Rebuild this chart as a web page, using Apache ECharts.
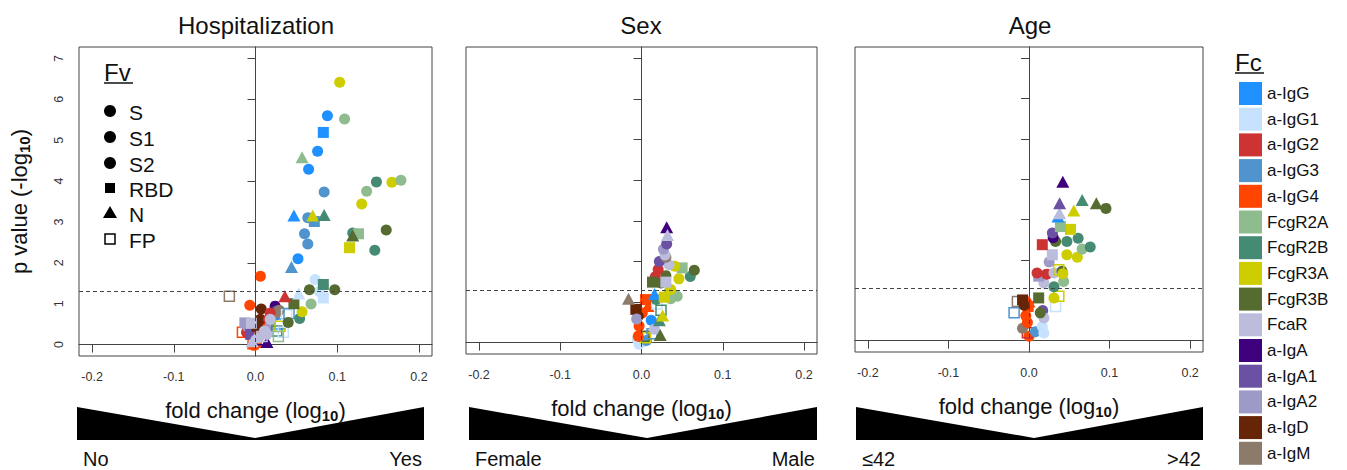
<!DOCTYPE html>
<html>
<head>
<meta charset="utf-8">
<script src="https://cdn.jsdelivr.net/npm/echarts@6/dist/echarts.min.js"></script>
<style>html,body{margin:0;padding:0;background:#fff}#c{width:1347px;height:470px}</style>
</head>
<body>
<div id="c"></div>
<script>
// ---------- data ----------
const fcNames = ['a-IgG','a-IgG1','a-IgG2','a-IgG3','a-IgG4','FcgR2A','FcgR2B','FcgR3A','FcgR3B','FcaR','a-IgA','a-IgA1','a-IgA2','a-IgD','a-IgM'];
const fcColors = ['#1E90FF','#C6E2FF','#CD3333','#4F94CD','#FF4500','#8FBC8F','#458B74','#CDCD00','#556B2F','#BCBDDC','#3F007D','#6A51A3','#9E9AC8','#662506','#8C7B6B'];
const fvNames = ['S','S1','S2','RBD','N','FP'];
const panelTitles = ['Hospitalization','Sex','Age'];
const groupLow = ['No','Female','≤42'];
const groupHigh = ['Yes','Male','>42'];
const xTicks = [-0.2,-0.1,0,0.1,0.2];
const yTicks = [0,1,2,3,4,5,6,7];
const pThreshold = 1.301; // -log10(0.05)

// [Fc, Fv, fold change (log10), p value (-log10)]
const hospitalization = [
 ['a-IgG4','FP',-0.003,0.02],['a-IgG4','S2',-0.002,-0.02],['a-IgG4','RBD',0.001,0.05],
 ['a-IgA','N',0.014,0.06],['a-IgA','FP',0.008,0.12],['a-IgG4','FP',-0.016,0.30],
 ['a-IgG2','RBD',-0.009,0.38],['a-IgG2','S1',-0.011,0.30],['a-IgA2','RBD',-0.013,0.53],
 ['a-IgA2','S',-0.010,0.44],['a-IgA1','RBD',-0.006,0.25],['a-IgG4','N',0.008,0.37],
 ['a-IgG4','S',0.011,0.49],['a-IgG4','S2',0.004,0.20],['a-IgG4','S1',-0.007,0.96],
 ['a-IgG4','S',0.006,1.67],['a-IgD','S',0.007,0.87],['a-IgD','S1',0.006,0.62],
 ['a-IgD','RBD',0.002,0.45],['a-IgA','S',0.024,0.94],['a-IgA1','S',0.026,0.82],
 ['a-IgM','S',0.029,0.84],['a-IgM','S1',0.024,0.72],['a-IgG2','S',0.018,0.77],
 ['a-IgG2','S1',0.016,0.62],['a-IgA2','S',0.018,0.45],['a-IgG','FP',0.030,0.50],
 ['FcgR2B','FP',0.026,0.33],['FcgR3A','FP',0.030,0.45],['a-IgG1','FP',0.034,0.30],
 ['a-IgG1','FP',0.038,0.73],['a-IgG3','FP',0.041,0.76],['FcgR2A','FP',0.028,0.20],
 ['FcgR3B','S2',0.040,0.54],['FcgR2B','S2',0.054,0.64],['FcgR3A','S',0.057,0.80],
 ['FcgR2A','S2',0.068,0.99],['FcgR3B','RBD',0.047,1.00],['a-IgG2','N',0.036,1.18],
 ['a-IgG1','N',0.053,1.25],['a-IgG1','S',0.073,1.59],['a-IgG1','RBD',0.083,1.14],
 ['a-IgG1','S1',0.078,1.30],['FcgR2B','RBD',0.083,1.47],['FcgR3B','S',0.066,1.34],
 ['FcgR3B','S2',0.097,1.34],['a-IgM','FP',-0.032,1.18],
 ['FcaR','N',-0.004,0.08],['FcaR','S2',0.003,0.16],['FcaR','RBD',-0.005,0.52],
 ['FcaR','S1',0.011,0.33],['FcaR','S',0.018,0.62],['FcaR','FP',0.008,0.20],['FcaR','S1',0.014,0.25],
 ['a-IgG3','N',0.044,1.90],['a-IgG','S',0.052,2.10],['a-IgG3','S2',0.064,2.46],
 ['a-IgG3','S1',0.060,2.71],['a-IgG3','S',0.064,3.10],['a-IgG3','RBD',0.072,3.01],
 ['a-IgG','N',0.047,3.16],['FcgR3A','N',0.070,3.16],['FcgR2B','N',0.084,3.17],
 ['a-IgG3','S1',0.084,3.73],['a-IgG','S2',0.065,4.29],['FcgR2A','N',0.057,4.58],
 ['a-IgG','S',0.076,4.73],['a-IgG','RBD',0.083,5.19],['a-IgG','S1',0.088,5.60],
 ['FcgR2A','S',0.109,5.52],['FcgR3A','S',0.103,6.42],
 ['FcgR3A','RBD',0.115,2.37],['FcgR2B','S2',0.119,2.73],['FcgR2A','RBD',0.126,2.71],
 ['FcgR3B','N',0.119,2.67],['FcgR3B','S1',0.160,2.80],['FcgR2B','S',0.146,2.31],
 ['FcgR3A','S2',0.130,3.44],['FcgR2A','S2',0.136,3.75],['FcgR2B','S1',0.148,3.98],
 ['FcgR3A','S1',0.167,3.97],['FcgR2A','S1',0.178,4.02]
];
const sex = [
 ['a-IgG1','S',-0.003,-0.04],['a-IgG1','S1',0.002,0.02],['a-IgG1','S2',-0.005,0.08],
 ['a-IgG3','S',0.006,0.05],['FcgR3B','FP',0.003,0.16],['FcgR3A','FP',0.005,0.12],
 ['a-IgG4','S',-0.004,0.16],['a-IgG4','S1',-0.003,0.41],['a-IgG4','S2',0.001,0.73],
 ['a-IgG4','RBD',0.005,1.06],['a-IgG4','N',0.008,0.90],['a-IgD','RBD',-0.007,0.82],
 ['a-IgD','S',-0.004,0.65],['a-IgA2','S',-0.006,0.58],['a-IgM','N',-0.016,1.08],
 ['a-IgG3','FP',0.013,0.22],['a-IgG','S',0.012,0.55],['FcaR','S',0.016,0.33],
 ['FcgR3B','N',0.023,0.19],['FcgR2B','N',0.022,0.55],['a-IgG1','FP',0.019,0.95],
 ['FcgR2B','FP',0.024,0.80],['FcgR2B','S',0.018,1.06],['a-IgG','N',0.016,1.20],
 ['FcgR2A','S',0.036,1.08],['FcgR2A','S1',0.044,1.14],['FcgR2A','S2',0.034,1.25],
 ['FcgR3A','S',0.036,1.31],['FcgR3A','RBD',0.028,1.12],['FcgR3A','N',0.026,0.67],
 ['FcgR3B','S2',0.030,1.65],['a-IgG2','S1',0.017,1.62],['a-IgG2','S',0.0205,1.80],
 ['FcgR3A','S1',0.046,1.57],['FcgR2B','S1',0.060,1.63],['FcgR3B','S1',0.065,1.78],
 ['FcgR2A','RBD',0.050,1.84],['FcgR3A','S2',0.041,1.88],['FcaR','S1',0.034,1.92],
 ['a-IgA1','S',0.022,2.00],['a-IgM','S',0.030,2.10],['FcaR','S2',0.029,2.16],
 ['a-IgA2','S1',0.027,2.30],['a-IgA1','S1',0.031,2.43],
 ['FcgR3B','RBD',0.0135,1.49],['FcgR3B','S',0.024,1.47],['FcaR','RBD',0.030,1.49],
 ['a-IgA','N',0.031,2.84],['FcaR','N',0.032,2.65]
];
const age = [
 ['a-IgG4','S',0.000,0.11],['a-IgG2','FP',-0.002,0.20],['a-IgG3','S',0.008,0.22],
 ['a-IgG1','S',0.0185,0.19],['a-IgG1','S1',0.0165,0.35],['a-IgM','S',-0.008,0.31],
 ['a-IgG4','S1',-0.002,0.45],['a-IgG4','S2',-0.004,0.62],['a-IgG4','RBD',-0.001,0.85],
 ['a-IgG4','N',0.000,0.97],['a-IgG3','FP',-0.0185,0.69],['a-IgM','FP',-0.0144,0.97],
 ['a-IgD','RBD',-0.008,1.01],['a-IgD','S',-0.006,0.88],['a-IgG1','FP',0.033,0.85],
 ['a-IgA1','S',0.017,0.75],['FcaR','S',0.0185,0.56],['FcgR3B','S',0.014,0.69],
 ['FcgR3B','RBD',0.012,1.06],['FcgR3A','S',0.031,1.06],['FcgR3A','FP',0.037,1.10],
 ['FcgR2B','S',0.031,1.34],['FcgR2A','S',0.043,1.47],['FcaR','S1',0.0185,1.43],
 ['a-IgA2','RBD',0.012,1.60],['a-IgG2','S',0.010,1.68],['a-IgG2','S1',0.022,1.65],
 ['FcaR','S2',0.031,1.68],['FcgR3B','S1',0.041,1.72],['FcgR3A','S1',0.042,1.66],
 ['FcgR3A','FP',0.037,1.76],['a-IgA2','S',0.025,1.95],['FcaR','RBD',0.029,2.13],
 ['FcgR3A','S2',0.047,2.13],['FcgR3A','S',0.060,2.07],['FcgR2A','S1',0.066,2.27],
 ['FcgR2B','S1',0.076,2.32],['FcgR2B','S2',0.047,2.46],['FcgR2B','S',0.061,2.54],
 ['FcgR3B','S2',0.033,2.46],['a-IgG2','RBD',0.0165,2.38],['a-IgA','S',0.030,2.55],
 ['a-IgA1','S1',0.029,2.67],['FcgR3A','RBD',0.0515,2.76],['FcgR2A','RBD',0.039,2.83],
 ['a-IgG','N',0.036,3.08],['FcaR','N',0.038,3.16],['FcgR3A','N',0.0556,3.23],
 ['a-IgA1','N',0.038,3.41],['FcgR2B','N',0.066,3.49],['FcgR3B','N',0.0836,3.41],
 ['FcgR3B','S',0.0955,3.28],['a-IgA','N',0.042,3.94]
];
const panels = [hospitalization, sex, age];

// ---------- layout / style ----------
const FONT = "'Liberation Sans', Arial, sans-serif";
const gridBoxes = [
 {left:79, top:47, width:353, height:309},
 {left:466, top:47, width:351, height:307},
 {left:855, top:47, width:348, height:305}
];
const colorOf = name => fcColors[fcNames.indexOf(name)];

function markStyle(fv, color){
  if (fv === 'RBD') return {symbol:'rect', symbolSize:11, itemStyle:{color:color, opacity:1}};
  if (fv === 'N') return {symbol:'triangle', symbolSize:[13,12], itemStyle:{color:color, opacity:1}};
  if (fv === 'FP') return {symbol:'rect', symbolSize:10, itemStyle:{color:'rgba(255,255,255,0)', borderColor:color, borderWidth:1.5, opacity:1}};
  return {symbol:'circle', symbolSize:11, itemStyle:{color:color, opacity:1}};
}

const nameRich = {
  a:{fontSize:22, fontFamily:FONT, color:'#111', lineHeight:26},
  s:{fontSize:15, fontFamily:FONT, fontWeight:'bold', color:'#111', lineHeight:26, verticalAlign:'bottom', padding:[9,0,0,0]}
};

const grids = [], xAxes = [], yAxes = [], series = [];
panels.forEach((pts, i) => {
  grids.push(Object.assign({show:true, borderColor:'#444', borderWidth:1, backgroundColor:'transparent'}, gridBoxes[i]));
  xAxes.push({
    gridIndex:i, type:'value', min:-0.216, max:0.216,
    axisLine:{show:true, lineStyle:{color:'#444'}},
    axisTick:{show:true, length:8, customValues:xTicks, lineStyle:{color:'#444'}},
    axisLabel:{customValues:xTicks, formatter:v => (Math.abs(v) < 1e-9 ? 0 : v).toFixed(1), fontSize:12.5, color:'#333', fontFamily:FONT, margin:14},
    splitLine:{show:false},
    name:'{a|fold change (log}{s|10}{a|)}', nameLocation:'middle', nameGap:41,
    nameTextStyle:{rich:nameRich}
  });
  yAxes.push({
    gridIndex:i, type:'value', min:-0.28, max:7.28,
    axisLine:{show:true, lineStyle:{color:'#444'}},
    axisTick:{show:true, length:8, customValues:yTicks, lineStyle:{color:'#444'}},
    axisLabel:{show:i === 0, customValues:yTicks, rotate:90, fontSize:12.5, color:'#333', fontFamily:FONT, margin:14},
    splitLine:{show:false},
    name: i === 0 ? '{a|p value (-log}{s|10}{a|)}' : '', nameLocation:'middle', nameGap:47, nameRotate:90,
    nameTextStyle:{rich:nameRich}
  });
  // reference lines
  series.push({
    type:'scatter', xAxisIndex:i, yAxisIndex:i, data:[], z:1, silent:true,
    markLine:{silent:true, symbol:'none', label:{show:false}, animation:false,
      lineStyle:{type:[4,3], color:'#444', width:1},
      data:[{xAxis:0},{yAxis:pThreshold}]}
  });
  series.push({
    type:'scatter', xAxisIndex:i, yAxisIndex:i, z:3, animation:false,
    itemStyle:{opacity:1}, emphasis:{disabled:true},
    data: pts.map(p => Object.assign({value:[p[2], p[3]], name:p[0] + ' ' + p[1]}, markStyle(p[1], colorOf(p[0]))))
  });
});
// legend entries for Fc colours
fcNames.forEach((n, k) => {
  series.push({type:'scatter', name:n, xAxisIndex:0, yAxisIndex:0, data:[], itemStyle:{color:fcColors[k], opacity:1}});
});

// ---------- decorations ----------
const graphic = [];
const titleCenters = [256, 641, 1030];
panelTitles.forEach((t, i) => {
  graphic.push({type:'text', x:titleCenters[i], y:25, style:{text:t, font:'24px ' + FONT, fill:'#111', textAlign:'center', textVerticalAlign:'middle'}});
});
const wedgeSpans = [[77,424,255],[469,817,647],[856,1203,1034]];
wedgeSpans.forEach((w, i) => {
  graphic.push({type:'polygon', shape:{points:[[w[0],407],[w[2],438],[w[1],407],[w[1],440],[w[0],440]]}, style:{fill:'#000'}, z:0});
  graphic.push({type:'text', x:w[0] + 6, y:459, style:{text:groupLow[i], font:'20px ' + FONT, fill:'#111', textAlign:'left', textVerticalAlign:'middle'}});
  graphic.push({type:'text', x:w[1] - 2, y:459, style:{text:groupHigh[i], font:'20px ' + FONT, fill:'#111', textAlign:'right', textVerticalAlign:'middle'}});
});
// Fv legend
graphic.push({type:'text', x:104, y:72, style:{text:'Fv', font:'24px ' + FONT, fill:'#111', textAlign:'left', textVerticalAlign:'middle'}});
graphic.push({type:'line', shape:{x1:104, y1:83, x2:133, y2:83}, style:{stroke:'#111', lineWidth:1.5}});
const fvRowY = [111, 137, 163, 188, 213, 239];
fvNames.forEach((fv, k) => {
  const cy = fvRowY[k], cx = 110;
  if (fv === 'RBD') graphic.push({type:'rect', shape:{x:cx-5, y:cy-5, width:10, height:10}, style:{fill:'#000'}});
  else if (fv === 'N') graphic.push({type:'polygon', shape:{points:[[cx, cy-7],[cx+7, cy+5],[cx-7, cy+5]]}, style:{fill:'#000'}});
  else if (fv === 'FP') graphic.push({type:'rect', shape:{x:cx-5, y:cy-5, width:10, height:10}, style:{fill:'none', stroke:'#000', lineWidth:1.5}});
  else graphic.push({type:'circle', shape:{cx:cx, cy:cy, r:6}, style:{fill:'#000'}});
  graphic.push({type:'text', x:129, y:cy + 1, style:{text:fv, font:'21px ' + FONT, fill:'#111', textAlign:'left', textVerticalAlign:'middle'}});
});
// Fc legend title
graphic.push({type:'text', x:1235, y:62, style:{text:'Fc', font:'24px ' + FONT, fill:'#111', textAlign:'left', textVerticalAlign:'middle'}});
graphic.push({type:'line', shape:{x1:1235, y1:73, x2:1264, y2:73}, style:{stroke:'#111', lineWidth:1.5}});

const chart = echarts.init(document.getElementById('c'), null, {renderer:'svg'});
chart.setOption({
  animation:false,
  backgroundColor:'#fff',
  textStyle:{fontFamily:FONT},
  grid:grids, xAxis:xAxes, yAxis:yAxes, series:series,
  legend:{
    data:fcNames, orient:'vertical', left:1239, top:82, padding:0,
    icon:'rect', itemWidth:23, itemHeight:23, itemGap:2.7,
    textStyle:{fontSize:17, color:'#111', fontFamily:FONT}, selectedMode:false
  },
  graphic:graphic
});
</script>
</body>
</html>
